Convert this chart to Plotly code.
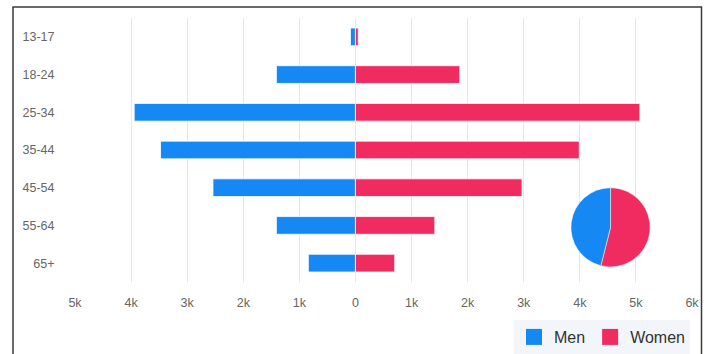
import plotly.graph_objects as go

# Audience by age group and gender
age_groups = ["13-17", "18-24", "25-34", "35-44", "45-54", "55-64", "65+"]
men = [90, 1410, 3945, 3475, 2540, 1410, 840]
women = [50, 1860, 5070, 3990, 2970, 1415, 700]

tick_values = [-5000, -4000, -3000, -2000, -1000, 0, 1000, 2000, 3000, 4000, 5000, 6000]
tick_labels = ["5k", "4k", "3k", "2k", "1k", "0", "1k", "2k", "3k", "4k", "5k", "6k"]

BLUE = "#1688F4"
RED = "#F02B60"
FONT = "Liberation Sans, Arial, sans-serif"

fig = go.Figure()

# Men extend to the left, women to the right
fig.add_trace(go.Bar(
    y=age_groups, x=[-v for v in men], orientation="h", name="Men",
    marker=dict(color=BLUE, line=dict(color="rgba(255,255,255,0.8)", width=1)),
    showlegend=False,
))
fig.add_trace(go.Bar(
    y=age_groups, x=women, orientation="h", name="Women",
    marker=dict(color=RED, line=dict(color="rgba(255,255,255,0.8)", width=1)),
    showlegend=False,
))

# Overall gender split
fig.add_trace(go.Pie(
    labels=["Women", "Men"], values=[sum(women), sum(men)],
    marker=dict(colors=[RED, BLUE], line=dict(color="white", width=0.5)),
    sort=False, direction="clockwise", rotation=0,
    textinfo="none", hoverinfo="label+percent", showlegend=False,
    domain=dict(x=[0.803, 0.933], y=[0.057, 0.357]),
))

# Legend entries
for name, color in [("Men", BLUE), ("Women", RED)]:
    fig.add_trace(go.Scatter(
        x=[None], y=[None], mode="markers", name=name,
        marker=dict(symbol="square", size=16, color=color),
        showlegend=True,
    ))

fig.update_layout(
    width=707, height=354,
    margin=dict(l=75, r=15, t=18, b=72, autoexpand=False),
    paper_bgcolor="white", plot_bgcolor="white",
    barmode="relative", bargap=0.53,
    font=dict(family=FONT, color="#666666", size=12.5),
    legend=dict(
        orientation="h", xref="container", yref="container",
        x=690 / 707, xanchor="right", y=(354 - 320) / 354, yanchor="top",
        bgcolor="#F2F5FA", font=dict(size=16, color="#333333"),
        itemwidth=30, tracegroupgap=0,
    ),
    xaxis=dict(
        range=[-5000, 6000], tickvals=tick_values, ticktext=tick_labels,
        showgrid=True, gridcolor="#E3E7EE", gridwidth=1, zeroline=False,
        ticks="outside", ticklen=9, tickcolor="rgba(0,0,0,0)",
        showline=False, fixedrange=True,
    ),
    yaxis=dict(
        categoryorder="array", categoryarray=age_groups, autorange="reversed",
        showgrid=False, zeroline=False, ticks="outside", ticklen=17,
        tickcolor="rgba(0,0,0,0)", showline=False, fixedrange=True,
    ),
    shapes=[dict(
        type="rect", xref="paper", yref="paper",
        x0=(13 - 75) / 617, x1=(701.5 - 75) / 617,
        y0=-0.5, y1=(282 - 7) / 264,
        line=dict(color="#3A3A3A", width=1.5), fillcolor="rgba(0,0,0,0)",
        layer="below",
    )],
)

fig.write_html("out.html")
